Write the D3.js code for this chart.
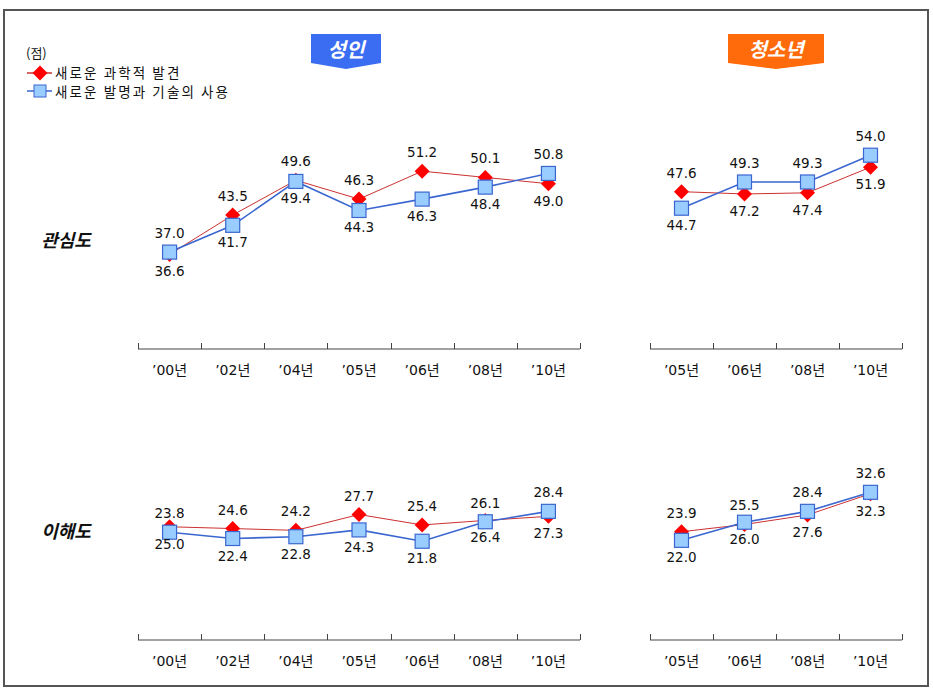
<!DOCTYPE html>
<html>
<head>
<meta charset="utf-8">
<script src="https://cdn.jsdelivr.net/npm/d3@7"></script>
<style>
  html, body { margin: 0; padding: 0; background: #fff; }
  svg { display: block; }
</style>
</head>
<body>
<svg id="chart" width="933" height="691"></svg>
<script>
// ---------- data ----------
const adultCats = ["’00년", "’02년", "’04년", "’05년", "’06년", "’08년", "’10년"];
const youthCats = ["’05년", "’06년", "’08년", "’10년"];

const seriesNames = ["새로운 과학적 발견", "새로운 발명과 기술의 사용"];

// 관심도 (interest)
const adultInterestSci  = [36.6, 43.5, 49.6, 46.3, 51.2, 50.1, 49.0];
const adultInterestTech = [37.0, 41.7, 49.4, 44.3, 46.3, 48.4, 50.8];
const youthInterestSci  = [47.6, 47.2, 47.4, 51.9];
const youthInterestTech = [44.7, 49.3, 49.3, 54.0];

// 이해도 (understanding)
const adultUnderstandSci  = [25.0, 24.6, 24.2, 27.7, 25.4, 26.4, 27.3];
const adultUnderstandTech = [23.8, 22.4, 22.8, 24.3, 21.8, 26.1, 28.4];
const youthUnderstandSci  = [23.9, 25.5, 27.6, 32.3];
const youthUnderstandTech = [22.0, 26.0, 28.4, 32.6];

// whether the 과학적 발견 label sits above its point (the other series' label goes opposite)
const adultInterestSciAbove   = [false, true, true, true, true, true, false];
const youthInterestSciAbove   = [true, false, false, false];
const adultUnderstandSciAbove = [false, true, true, true, true, false, false];
const youthUnderstandSciAbove = [true, true, false, false];

const interestDomain = [20, 60];
const understandDomain = [0, 50];

// ---------- drawing ----------
const svg = d3.select("#chart");
const NUM_FONT = "'DejaVu Sans', Verdana, sans-serif";
const KR_FONT = "'DejaVu Sans', 'Noto Sans CJK KR', sans-serif";
const RED_LINE = "#cc3030", RED_FILL = "#ff0000";
const BLUE_LINE = "#3a66d0", BLUE_FILL = "#99ccff";

// frame
svg.append("rect").attr("x", 4).attr("y", 10).attr("width", 924).attr("height", 676)
  .attr("fill", "none").attr("stroke", "#555").attr("stroke-width", 2);

// banners
function banner(x0, x1, label, color) {
  const top = 34, sideBottom = 63, tip = 69, mid = (x0 + x1) / 2;
  svg.append("path")
    .attr("d", `M${x0},${top}L${x1},${top}L${x1},${sideBottom}L${mid},${tip}L${x0},${sideBottom}Z`)
    .attr("fill", color);
  svg.append("text").attr("x", mid).attr("y", 57).attr("text-anchor", "middle")
    .attr("font-family", "'Noto Sans CJK KR', sans-serif").attr("font-weight", "bold")
    .attr("font-style", "italic").attr("font-size", 20).attr("fill", "#fff").text(label);
}
banner(311, 381, "성인", "#3b6df2");
banner(728, 824, "청소년", "#ff6a0a");

// legend
svg.append("text").attr("x", 26).attr("y", 58).attr("font-family", "'Noto Sans CJK KR', sans-serif")
  .attr("font-size", 13).attr("fill", "#111").text("(점)");
function diamondPath(cx, cy, hw, hh) {
  return `M${cx},${cy - hh}L${cx + hw},${cy}L${cx},${cy + hh}L${cx - hw},${cy}Z`;
}
// legend item 1
svg.append("line").attr("x1", 27).attr("x2", 52).attr("y1", 73).attr("y2", 73)
  .attr("stroke", RED_LINE).attr("stroke-width", 1.5);
svg.append("path").attr("d", diamondPath(40, 73, 7.5, 7.5)).attr("fill", RED_FILL);
// legend item 2
svg.append("line").attr("x1", 27).attr("x2", 52).attr("y1", 91).attr("y2", 91)
  .attr("stroke", BLUE_LINE).attr("stroke-width", 1.5);
svg.append("rect").attr("x", 34).attr("y", 85).attr("width", 12).attr("height", 12)
  .attr("fill", BLUE_FILL).attr("stroke", BLUE_LINE).attr("stroke-width", 1);
seriesNames.forEach((n, i) => {
  svg.append("text").attr("x", 55).attr("y", 78 + i * 19)
    .attr("font-family", "'Noto Sans CJK KR', sans-serif").attr("font-size", 13.5)
    .attr("letter-spacing", 2.1).attr("fill", "#111").text(n);
});

// row labels
[["관심도", 247], ["이해도", 538]].forEach(([t, y]) => {
  svg.append("text").attr("x", 66).attr("y", y).attr("text-anchor", "middle")
    .attr("font-family", "'Noto Sans CJK KR', sans-serif").attr("font-weight", "bold")
    .attr("font-style", "italic").attr("font-size", 18).attr("fill", "#111").text(t);
});

function panel(cats, sci, tech, sciAbove, xRange, yBottom, yTop, domain) {
  const x = d3.scaleBand().domain(cats).range(xRange).paddingInner(0).paddingOuter(0);
  const y = d3.scaleLinear().domain(domain).range([yBottom, yTop]);
  const g = svg.append("g");

  // axis line + boundary ticks
  g.append("line").attr("x1", xRange[0]).attr("x2", xRange[1]).attr("y1", yBottom).attr("y2", yBottom)
    .attr("stroke", "#444").attr("stroke-width", 1);
  const edges = cats.map(c => x(c)).concat([x(cats[cats.length - 1]) + x.bandwidth()]);
  g.selectAll("line.tick").data(edges).join("line").attr("class", "tick")
    .attr("x1", d => Math.round(d) + 0.5).attr("x2", d => Math.round(d) + 0.5)
    .attr("y1", yBottom - 6).attr("y2", yBottom).attr("stroke", "#444").attr("stroke-width", 1);

  // category labels via d3 axis
  const ax = g.append("g").attr("transform", `translate(0,${yBottom})`)
    .call(d3.axisBottom(x).tickSize(0).tickPadding(16));
  ax.select(".domain").remove();
  ax.selectAll("text").attr("font-family", KR_FONT).attr("font-size", 14).attr("fill", "#111");

  const cx = c => x(c) + x.bandwidth() / 2;
  const line = d3.line().x((d, i) => cx(cats[i])).y(d => y(d));

  // lines
  g.append("path").datum(sci).attr("d", line).attr("fill", "none")
    .attr("stroke", RED_LINE).attr("stroke-width", 1);
  g.append("path").datum(tech).attr("d", line).attr("fill", "none")
    .attr("stroke", BLUE_LINE).attr("stroke-width", 1.6);

  // markers
  g.selectAll("path.dia").data(sci).join("path").attr("class", "dia")
    .attr("d", (d, i) => diamondPath(cx(cats[i]), y(d), 7.5, 7.5)).attr("fill", RED_FILL);
  g.selectAll("rect.sq").data(tech).join("rect").attr("class", "sq")
    .attr("x", (d, i) => cx(cats[i]) - 7).attr("y", d => y(d) - 7)
    .attr("width", 14).attr("height", 14)
    .attr("fill", BLUE_FILL).attr("stroke", BLUE_LINE).attr("stroke-width", 1.2);

  // value labels
  const lbl = (vals, aboveFn) => g.append("g").selectAll("text").data(vals).join("text")
    .attr("x", (d, i) => cx(cats[i]))
    .attr("y", (d, i) => aboveFn(i) ? y(d) - 14 : y(d) + 22)
    .attr("text-anchor", "middle").attr("font-family", NUM_FONT).attr("font-size", 13.5)
    .attr("fill", "#111").text(d => d.toFixed(1));
  lbl(sci, i => sciAbove[i]);
  lbl(tech, i => !sciAbove[i]);
}

panel(adultCats, adultInterestSci, adultInterestTech, adultInterestSciAbove, [138, 580], 349, 121, interestDomain);
panel(youthCats, youthInterestSci, youthInterestTech, youthInterestSciAbove, [650, 902], 349, 121, interestDomain);
panel(adultCats, adultUnderstandSci, adultUnderstandTech, adultUnderstandSciAbove, [138, 580], 640, 413.5, understandDomain);
panel(youthCats, youthUnderstandSci, youthUnderstandTech, youthUnderstandSciAbove, [650, 902], 640, 413.5, understandDomain);
</script>
</body>
</html>
